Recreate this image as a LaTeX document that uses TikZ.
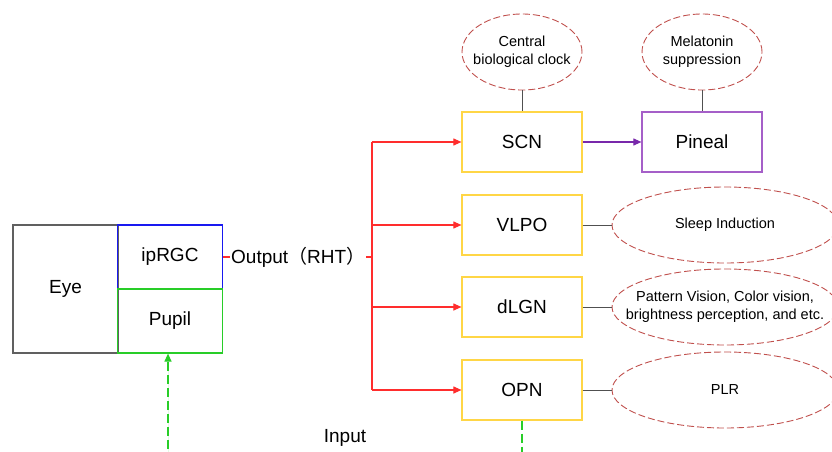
\documentclass[tikz,border=0pt]{standalone}
\usepackage{fontspec}
\setmainfont{Liberation Sans}
\newfontfamily\cjk{Noto Sans CJK SC}
\usepackage{tikz}
\usetikzlibrary{positioning, arrows.meta, shapes.geometric}
\definecolor{rhtred}{RGB}{255, 45, 45}
\definecolor{nucleusyellow}{RGB}{255, 214, 70}
\definecolor{effectred}{RGB}{192, 80, 77}
\definecolor{pinealpurple}{RGB}{165, 95, 200}
\definecolor{arrowpurple}{RGB}{120, 40, 170}
\definecolor{pupilgreen}{RGB}{40, 205, 40}
\definecolor{retinablue}{RGB}{25, 25, 240}
\definecolor{linkgray}{RGB}{80, 80, 80}

\begin{document}
\begin{tikzpicture}[x=1pt, y=-1pt,
  eyepart/.style={draw, line width=1.2pt, minimum width=105pt, inner sep=0pt, font=\fontsize{19}{22}\selectfont},
  nucleus/.style={draw=nucleusyellow, line width=1.2pt, minimum width=120pt, minimum height=60pt, inner sep=0pt, font=\fontsize{19}{22}\selectfont},
  effect/.style={draw=effectred, line width=0.9pt, dash pattern=on 7pt off 3pt, ellipse, align=center, inner xsep=-22pt, inner ysep=0pt, minimum height=76pt, font=\fontsize{14.5}{18}\selectfont},
  link/.style={draw=linkgray, line width=1pt},
  rht/.style={draw=rhtred, line width=1.1pt},
  tip/.style={-{Triangle[length=8pt, width=7pt]}}
]
    \useasboundingbox (0,0) rectangle (832,452);
    \clip (0,0) rectangle (832,452);

    % eye
    \node[eyepart, draw=gray!75!black, minimum height=128pt] (eye) at (65.5,289) {Eye};
    \node[eyepart, draw=retinablue, minimum height=64pt] (iprgc) at (170,257) {ipRGC};
    \node[eyepart, draw=pupilgreen, minimum height=64pt] (pupil) at (170,321) {Pupil};

    % retinohypothalamic tract
    \node[anchor=west, inner xsep=1pt, font=\fontsize{19}{22}\selectfont] (out) at (230,257) {Output{\cjk （}RHT{\cjk ）}};
    \coordinate (bus) at (372,257);

    \node[nucleus] (scn) at (522,142) {SCN};
    \node[nucleus] (vlpo) at (522,225) {VLPO};
    \node[nucleus] (dlgn) at (522,307) {dLGN};
    \node[nucleus] (opn) at (522,390) {OPN};
    \node[nucleus, draw=pinealpurple] (pineal) at (702,142) {Pineal};

    \begin{scope}[every node/.style={effect}]
        \node[minimum width=120pt] (clock) at (522,52) {Central\\biological clock};
        \node[minimum width=120pt] (melatonin) at (702,52) {Melatonin\\suppression};
        \node[minimum width=226pt] (sleep) at (725,225) {Sleep Induction};
        \node[minimum width=226pt] (vision) at (725,307) {Pattern Vision, Color vision,\\brightness perception, and etc.};
        \node[minimum width=226pt] (plr) at (725,390) {PLR};
    \end{scope}

    \node[font=\fontsize{19}{22}\selectfont] (input) at (345,438) {Input};

    \draw[rht] (iprgc.east) -- (out.west);
    \draw[rht] (out.east) -- (bus);
    \draw[rht] (bus |- scn.west) -- (bus |- opn.west);
    \draw[rht, tip, fill=rhtred] (bus |- scn.west) -- (scn.west);
    \draw[rht, tip, fill=rhtred] (bus |- vlpo.west) -- (vlpo.west);
    \draw[rht, tip, fill=rhtred] (bus |- dlgn.west) -- (dlgn.west);
    \draw[rht, tip, fill=rhtred] (bus |- opn.west) -- (opn.west);

    \draw[draw=arrowpurple, line width=1.1pt, tip, fill=arrowpurple] (scn) -- (pineal);

    \draw[link] (clock) -- (scn);
    \draw[link] (melatonin) -- (pineal);
    \draw[link] (vlpo) -- (sleep);
    \draw[link] (dlgn) -- (vision);
    \draw[link] (opn) -- (plr);

    % light input
    \coordinate (light) at (168,462);
    \coordinate (opnout) at (522,462);
    \draw[pupilgreen, line width=1.2pt, dash pattern=on 9pt off 4pt, tip, fill=pupilgreen] (light) -- (light |- pupil.south);
    \draw[pupilgreen, line width=1.2pt, dash pattern=on 9pt off 4pt] (opn.south) -- (opnout);
\end{tikzpicture}
\end{document}
